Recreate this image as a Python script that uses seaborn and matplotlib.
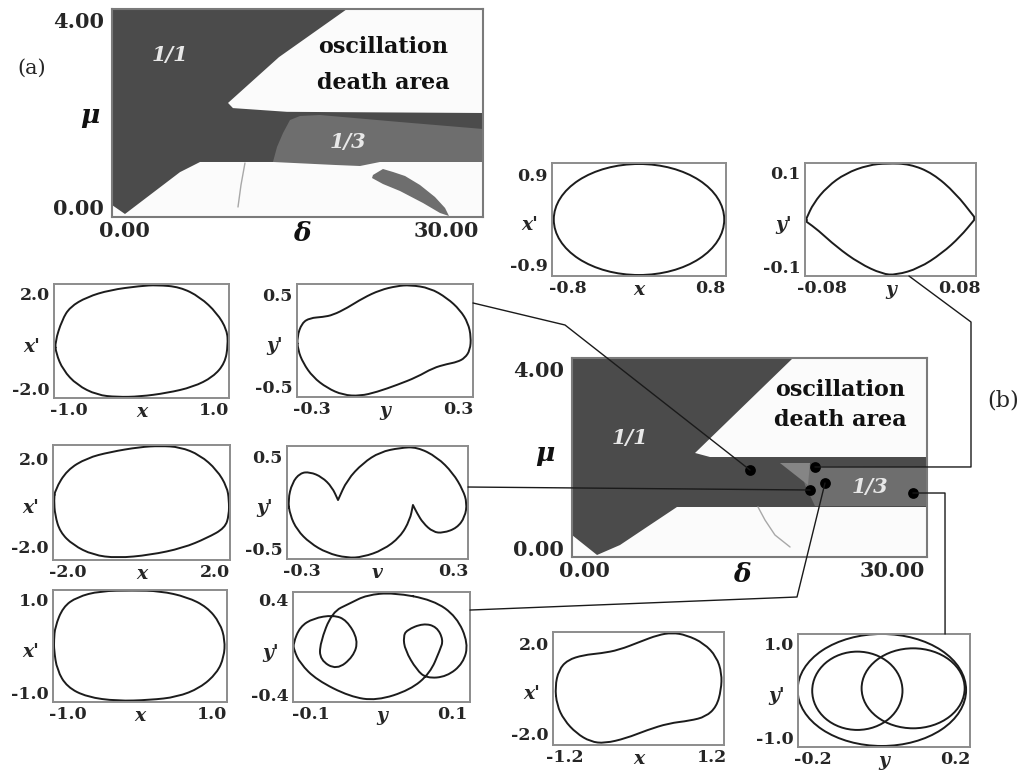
import matplotlib
matplotlib.use("Agg")
import matplotlib.pyplot as plt
from matplotlib.patches import Ellipse, PathPatch
from matplotlib.path import Path
from matplotlib.lines import Line2D
import seaborn as sns

# ---------------- region maps in the (delta, mu) plane ----------------
# panel (a)
a_sync11_delta = [-1.2, 20.72, 14.37, 9.62, 10.08, 15.12, 33.4, 33.4, 7.01, 5.14, 0.01, -1.2]
a_sync11_mu = [4.24, 4.24, 3.21, 2.23, 2.12, 2.04, 2.015, 0.967, 0.967, 0.75, -0.146, 0.047]
a_sync13_delta = [15.40, 16.33, 18.20, 25.66, 33.4, 33.4, 23.79, 21.93, 19.60, 13.81, 14.19, 14.75]
a_sync13_mu = [1.865, 1.951, 1.972, 1.822, 1.673, 0.967, 0.967, 0.881, 0.903, 0.967, 1.288, 1.587]
a_leaf_delta = [23.14, 24.07, 25.01, 26.13, 27.52, 28.92, 29.86, 30.23, 29.39, 27.80, 25.66, 24.07, 23.05]
a_leaf_mu = [0.689, 0.817, 0.753, 0.667, 0.475, 0.218, -0.017, -0.189, -0.124, 0.090, 0.346, 0.496, 0.624]
a_trace_delta = [11.20, 10.83, 10.55]
a_trace_mu = [0.945, 0.475, 0.004]

# panel (b)
b_sync11_delta = [-1.2, 20.34, 10.79, 12.25, 33.4, 33.4, 9.03, 6.40, 3.48, 1.24, -1.2]
b_sync11_mu = [4.24, 4.24, 2.116, 2.026, 2.026, 0.908, 0.908, 0.506, 0.058, -0.165, 0.282]
b_sync13_delta = [21.02, 33.4, 33.4, 22.48, 21.51]
b_sync13_mu = [1.825, 1.803, 0.930, 0.930, 1.400]
b_wedge_delta = [19.07, 22.0, 21.80]
b_wedge_mu = [1.892, 1.892, 1.400]
b_trace_delta = [16.93, 17.61, 18.58, 20.05]
b_trace_mu = [0.908, 0.617, 0.282, 0.014]
b_dots_delta = [16.15, 22.48, 22.0, 23.46, 32.03]
b_dots_mu = [1.735, 1.803, 1.288, 1.445, 1.221]

delta_ticks = [0, 30]
delta_ticklabels = ["0.00", "30.00"]
mu_ticks = [0, 4]
mu_ticklabels = ["0.00", "4.00"]

# ---------------- phase portraits ----------------
p1_center = (0.0, 0.0)
p1_size = (1.92, 2.22)

p2_y = [-0.0982, -0.0902, -0.0740, -0.0526, -0.0257, -0.0042, 0.0226, 0.0495, 0.0763, 0.0978,
        0.0978, 0.0816, 0.0602, 0.0333, 0.0064, -0.0096, -0.0365, -0.0634, -0.0849, -0.0982]
p2_dy = [0.0025, 0.0344, 0.0697, 0.0981, 0.1158, 0.1194, 0.1179, 0.0981, 0.0556, 0.0059,
         -0.0011, -0.0365, -0.0718, -0.1036, -0.1179, -0.1158, -0.0930, -0.0578, -0.0223, -0.0047]
p2_corners = [0, 9, 10, 19]

p3_x = [-1.186, -1.090, -0.981, -0.747, -0.432, -0.021, 0.213, 0.528, 0.802, 1.035, 1.173,
        1.186, 1.145, 0.981, 0.706, 0.350, -0.021, -0.336, -0.610, -0.885, -1.077, -1.173]
p3_dx = [-0.042, 0.884, 1.432, 1.853, 2.147, 2.316, 2.358, 2.274, 1.853, 1.179, 0.463,
         -0.168, -0.926, -1.516, -1.937, -2.189, -2.34, -2.36, -2.274, -1.853, -1.221, -0.505]

p4_y = [-0.360, -0.340, -0.307, -0.254, -0.213, -0.155, -0.090, -0.020, 0.049, 0.102, 0.184,
        0.254, 0.307, 0.340, 0.352, 0.348, 0.327, 0.295, 0.254, 0.196, 0.131, 0.049, -0.033,
        -0.102, -0.172, -0.237, -0.295, -0.335, -0.356]
p4_dy = [0.038, 0.192, 0.247, 0.258, 0.280, 0.357, 0.466, 0.554, 0.598, 0.609, 0.576,
         0.466, 0.335, 0.192, 0.038, -0.104, -0.192, -0.236, -0.258, -0.302, -0.401, -0.488,
         -0.565, -0.609, -0.598, -0.521, -0.401, -0.247, -0.104]

p5_x = [-2.346, -2.020, -1.478, -0.854, -0.041, 0.502, 1.044, 1.586, 2.047, 2.319, 2.373,
        2.373, 2.264, 1.776, 1.125, 0.231, -0.664, -1.315, -1.858, -2.210, -2.346, -2.373]
p5_dx = [0.565, 1.470, 2.012, 2.283, 2.51, 2.56, 2.51, 2.148, 1.470, 0.701, 0.113,
         -0.565, -1.153, -1.605, -2.057, -2.374, -2.51, -2.374, -1.922, -1.334, -0.565, 0.113]

p6_y = [-0.356, -0.340, -0.308, -0.269, -0.221, -0.181, -0.157, -0.121, -0.058, 0.010, 0.090,
        0.157, 0.237, 0.300, 0.340, 0.356, 0.348, 0.316, 0.261, 0.221, 0.181, 0.157, 0.141,
        0.129, 0.090, 0.022, -0.058, -0.121, -0.201, -0.269, -0.320, -0.348]
p6_dy = [0.027, 0.214, 0.324, 0.335, 0.280, 0.170, 0.027, 0.247, 0.433, 0.554, 0.600,
         0.609, 0.499, 0.324, 0.137, -0.005, -0.159, -0.280, -0.335, -0.324, -0.225, -0.115,
         -0.027, -0.192, -0.379, -0.521, -0.598, -0.609, -0.554, -0.444, -0.302, -0.137]
p6_corners = [6, 22]

p7_x = [-1.196, -1.182, -1.071, -0.876, -0.556, -0.097, 0.278, 0.654, 0.932, 1.113, 1.182,
        1.168, 1.071, 0.834, 0.515, 0.139, -0.320, -0.737, -1.015, -1.154, -1.196]
p7_dx = [0.129, 0.407, 0.836, 1.050, 1.179, 1.190, 1.179, 1.050, 0.836, 0.493, 0.129,
         -0.236, -0.579, -0.900, -1.093, -1.157, -1.179, -1.093, -0.879, -0.514, -0.086]

p8_y = [0.0167, -0.0209, -0.0445, -0.0699, -0.0869, -0.0869, -0.0633, -0.0398, -0.0328,
        -0.0492, -0.0681, -0.0963, -0.1151, -0.1246, -0.1236, -0.1151, -0.0915, -0.0445,
        -0.0068, 0.0403, 0.0685, 0.0826, 0.0873, 0.0780, 0.0590, 0.0356, 0.0308, 0.0332,
        0.0497, 0.0638, 0.0921, 0.1155, 0.1226, 0.1062, 0.0732]
p8_dy = [0.455, 0.4349, 0.3655, 0.2927, 0.0309, -0.1087, -0.1924, -0.0811, 0.0585,
         0.2258, 0.2676, 0.2400, 0.1698, 0.0309, -0.0251, -0.1363, -0.2760, -0.4157,
         -0.4491, -0.3596, -0.2200, -0.0251, 0.0585, 0.1698, 0.1982, 0.1422, 0.0861, -0.0251,
         -0.1924, -0.2618, -0.2484, -0.1363, 0.0309, 0.2534, 0.3931]

p9_x = [-1.356, -1.297, -1.154, -0.894, -0.606, -0.319, 0.028, 0.315, 0.546, 0.777, 1.065,
        1.268, 1.354, 1.343, 1.268, 1.094, 0.836, 0.489, 0.143, -0.203, -0.548, -0.779,
        -1.010, -1.211, -1.327]
p9_dx = [0.080, 0.819, 1.261, 1.482, 1.558, 1.704, 2.071, 2.367, 2.469, 2.367, 2.000,
         1.407, 0.673, -0.066, -0.805, -1.248, -1.425, -1.540, -1.836, -2.204, -2.425, -2.354,
         -1.982, -1.394, -0.730]

p10_cx = [-0.006, -0.075, 0.082]
p10_cy = [0.011, -0.006, 0.047]
p10_w = [0.474, 0.254, 0.290]
p10_h = [2.408, 1.684, 1.720]

sns.set_theme(style="white")
plt.rcParams["font.family"] = ["DejaVu Serif", "DejaVu Sans"]
plt.rcParams["font.weight"] = "bold"

DARK = "#4b4b4b"
MID = "#6e6e6e"
PALE = "#858585"
BG = "#fbfbfb"
INK = "#1c1c1c"
FRAME = "#8c8c8c"

W, H = 1026, 775
fig = plt.figure(figsize=(W / 100, H / 100), dpi=100)
fig.patch.set_facecolor("white")


def add_box(l, t, r, b):
    return fig.add_axes([l / W, 1 - b / H, (r - l) / W, (b - t) / H])


def px2fig(x, y):
    return x / W, 1 - y / H


def region_map(box, layers, trace_d, trace_m, txt_pos):
    ax = add_box(*box)
    ax.set_facecolor(BG)
    for d, m, c in layers:
        ax.fill(d, m, color=c, lw=0)
    sns.lineplot(x=trace_d, y=trace_m, sort=False, estimator=None,
                 color="#a8a8a8", lw=1.0, ax=ax)
    ax.set_xlim(-1.2, 33.4)
    ax.set_ylim(-0.21, 4.24)
    ax.set_xticks(delta_ticks, delta_ticklabels)
    ax.set_yticks(mu_ticks, mu_ticklabels)
    ax.tick_params(length=0, labelsize=15)
    ax.tick_params(axis="x", pad=3)
    ax.tick_params(axis="y", pad=6)
    ax.set_xlabel("")
    ax.set_ylabel("")
    for sp in ax.spines.values():
        sp.set_color("#7a7a7a")
        sp.set_linewidth(1.5)
    (ox, oy1, oy2), (s11x, s11y), (s13x, s13y), (mux, muy), (dx, dy) = txt_pos
    ax.text(ox, oy1, "oscillation", transform=ax.transAxes, ha="center", va="center",
            fontsize=16, color="#111111")
    ax.text(ox, oy2, "death area", transform=ax.transAxes, ha="center", va="center",
            fontsize=16, color="#111111")
    ax.text(s11x, s11y, "1/1", transform=ax.transAxes, ha="center", va="center",
            fontsize=15, fontstyle="italic", color="#e8e8e8")
    ax.text(s13x, s13y, "1/3", transform=ax.transAxes, ha="center", va="center",
            fontsize=15, fontstyle="italic", color="#e8e8e8")
    ax.text(mux, muy, "μ", transform=ax.transAxes, ha="center", va="center",
            fontsize=19, fontstyle="italic", color="#111111")
    ax.text(dx, dy, "δ", transform=ax.transAxes, ha="center", va="center",
            fontsize=19, fontstyle="italic", color="#111111")
    return ax


def phase_axes(box, xl, yl, xt, yt, xlab, ylab):
    ax = add_box(*box)
    ax.set_facecolor("white")
    ax.set_xlim(-xl, xl)
    ax.set_ylim(-yl, yl)
    ax.set_xticks([-float(xt), float(xt)], ["-" + xt, xt])
    ax.set_yticks([-float(yt), float(yt)], ["-" + yt, yt])
    ax.tick_params(length=0, labelsize=12.5, pad=3)
    for sp in ax.spines.values():
        sp.set_color(FRAME)
        sp.set_linewidth(1.4)
    ax.text(0.5, -0.125, xlab, transform=ax.transAxes, ha="center", va="center",
            fontsize=13.5, fontstyle="italic")
    ax.text(-0.125, 0.45, ylab, transform=ax.transAxes, ha="center", va="center",
            fontsize=13.5, fontstyle="italic")
    return ax


def phase_curve(ax, xs, ys, corners=()):
    # closed smooth path through the read points (quadratic Bezier between midpoints)
    pts = list(zip(xs, ys))
    n = len(pts)

    def mid(a, b):
        return ((a[0] + b[0]) / 2, (a[1] + b[1]) / 2)

    verts = [mid(pts[-1], pts[0])]
    codes = [Path.MOVETO]
    for i in range(n):
        p, q = pts[i], pts[(i + 1) % n]
        verts += [p, mid(p, q)]
        if i in corners:
            codes += [Path.LINETO, Path.LINETO]
        else:
            codes += [Path.CURVE3, Path.CURVE3]
    ax.add_patch(PathPatch(Path(verts, codes), fill=False, ec=INK, lw=1.4,
                           joinstyle="round", capstyle="round"))


# ---- map (a) ----
ax_a = region_map((112, 9, 483, 217),
                  [(a_sync11_delta, a_sync11_mu, DARK),
                   (a_sync13_delta, a_sync13_mu, MID),
                   (a_leaf_delta, a_leaf_mu, MID)],
                  a_trace_delta, a_trace_mu,
                  ((0.73, 0.817, 0.644), (0.156, 0.779), (0.636, 0.361), (-0.06, 0.49), (0.512, -0.077)))

# ---- map (b) ----
ax_b = region_map((572, 358, 927, 557),
                  [(b_sync11_delta, b_sync11_mu, DARK),
                   (b_sync13_delta, b_sync13_mu, MID),
                   (b_wedge_delta, b_wedge_mu, PALE)],
                  b_trace_delta, b_trace_mu,
                  ((0.755, 0.839, 0.688), (0.163, 0.598), (0.839, 0.352), (-0.076, 0.52), (0.48, -0.09)))
sns.scatterplot(x=b_dots_delta, y=b_dots_mu, color="black", s=60, edgecolor="black",
                linewidth=0, ax=ax_b, zorder=5)
ax_b.set_xlim(-1.2, 33.4)
ax_b.set_ylim(-0.21, 4.24)
ax_b.set_xlabel("")
ax_b.set_ylabel("")

fig.text(32 / W, 1 - 68 / H, "(a)", ha="center", va="center", fontsize=15, fontweight="normal")
fig.text(1003 / W, 1 - 400 / H, "(b)", ha="center", va="center", fontsize=16, fontweight="normal")

# ---- phase portraits ----
ax1 = phase_axes((552, 163, 726, 276), 0.98, 1.13, "0.8", "0.9", "x", "x'")
ax1.add_patch(Ellipse(p1_center, p1_size[0], p1_size[1], fill=False, ec=INK, lw=1.4))

ax2 = phase_axes((805, 163, 976, 276), 0.1, 0.12, "0.08", "0.1", "y", "y'")
phase_curve(ax2, p2_y, p2_dy, p2_corners)

ax3 = phase_axes((54, 284, 229, 398), 1.2, 2.4, "1.0", "2.0", "x", "x'")
phase_curve(ax3, p3_x, p3_dx)

ax4 = phase_axes((297, 284, 473, 397), 0.36, 0.62, "0.3", "0.5", "y", "y'")
phase_curve(ax4, p4_y, p4_dy)

ax5 = phase_axes((53, 445, 230, 560), 2.4, 2.6, "2.0", "2.0", "x", "x'")
phase_curve(ax5, p5_x, p5_dx)

ax6 = phase_axes((287, 446, 468, 559), 0.36, 0.62, "0.3", "0.5", "v", "y'")
phase_curve(ax6, p6_y, p6_dy, p6_corners)

ax7 = phase_axes((53, 590, 227, 702), 1.21, 1.2, "1.0", "1.0", "x", "x'")
phase_curve(ax7, p7_x, p7_dx)

ax8 = phase_axes((293, 592, 470, 702), 0.125, 0.46, "0.1", "0.4", "y", "y'")
phase_curve(ax8, p8_y, p8_dy)

ax9 = phase_axes((553, 632, 724, 745), 1.39, 2.5, "1.2", "2.0", "x", "x'")
phase_curve(ax9, p9_x, p9_dx)

ax10 = phase_axes((798, 634, 970, 747), 0.242, 1.215, "0.2", "1.0", "y", "y'")
for cx, cy, w, h in zip(p10_cx, p10_cy, p10_w, p10_h):
    ax10.add_patch(Ellipse((cx, cy), w, h, fill=False, ec=INK, lw=1.4))

# ---- connector lines from the portraits to the marked points in (b) ----
to_fig = fig.transFigure.inverted()


def on_fig(ax, xy, frac=False):
    t = ax.transAxes if frac else ax.transData
    return tuple(to_fig.transform(t.transform(xy)))


dots = [on_fig(ax_b, (d, m)) for d, m in zip(b_dots_delta, b_dots_mu)]

paths = [
    [on_fig(ax4, (1.0, 0.832), True), px2fig(565, 325), dots[0]],
    [on_fig(ax6, (1.0, 0.637), True), dots[2]],
    [on_fig(ax8, (1.0, 0.836), True), px2fig(797, 597), dots[3]],
    [on_fig(ax2, (0.608, 0.0), True), px2fig(971, 322), (971 / W, dots[1][1]), dots[1]],
    [dots[4], (945 / W, dots[4][1]), on_fig(ax10, (0.855, 1.0), True)],
]
for pts in paths:
    xs = [p[0] for p in pts]
    ys = [p[1] for p in pts]
    fig.add_artist(Line2D(xs, ys, transform=fig.transFigure, color="#1a1a1a", lw=1.0))

fig.savefig("out.png", dpi=100)
